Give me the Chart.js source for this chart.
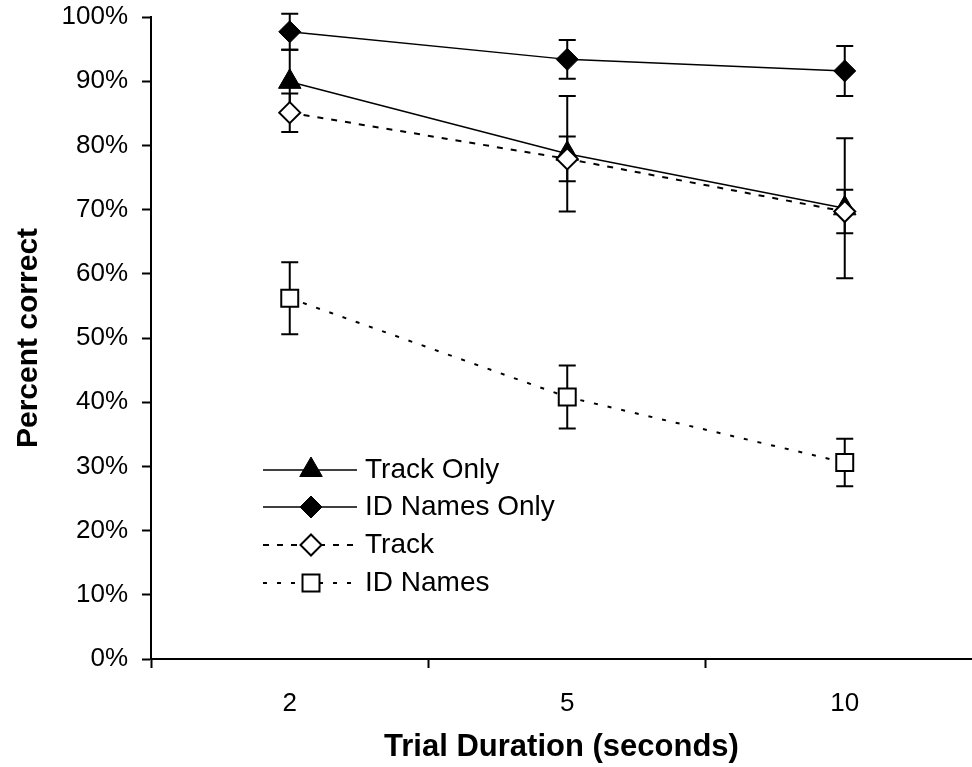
<!DOCTYPE html>
<html><head><meta charset="utf-8">
<script src="https://cdn.jsdelivr.net/npm/chart.js@4.4.1/dist/chart.umd.min.js"></script>
<style>html,body{margin:0;padding:0;background:#fff;overflow:hidden}#wrap{width:972px;height:767px;position:relative}</style>
</head><body><div id="wrap"><canvas id="c"></canvas></div>
<script>
const categories = ['2', '5', '10'];
const seriesNames = ['Track Only', 'ID Names Only', 'Track', 'ID Names'];
const trackOnly = [89.9, 78.7, 70.2];
const trackOnlyErr = [5.0, 9.0, 10.9];
const idNamesOnly = [97.7, 93.4, 91.6];
const idNamesOnlyErr = [2.8, 3.0, 3.9];
const track = [85.1, 77.9, 69.7];
const trackErr = [3.0, 3.5, 3.4];
const idNames = [56.2, 40.8, 30.6];
const idNamesErr = [5.6, 4.9, 3.7];
const yTickValues = [0, 10, 20, 30, 40, 50, 60, 70, 80, 90, 100];
const xAxisTitle = 'Trial Duration (seconds)';
const yAxisTitle = 'Percent correct';

const FONT = "'Liberation Sans', Arial, Helvetica, sans-serif";
Chart.defaults.font.family = FONT;
Chart.defaults.color = '#000';

function pts(arr) { return arr.map((v, i) => ({ x: i, y: v })); }

const datasets = [
  { label: seriesNames[0], data: pts(trackOnly), errors: trackOnlyErr, order: 4,
    borderColor: '#000', borderWidth: 1.5, borderDash: [],
    pointStyle: 'triangle', pointRadius: 13, pointBackgroundColor: '#000', pointBorderColor: '#000', pointBorderWidth: 1 },
  { label: seriesNames[1], data: pts(idNamesOnly), errors: idNamesOnlyErr, order: 3,
    borderColor: '#000', borderWidth: 1.5, borderDash: [],
    pointStyle: 'rectRot', pointRadius: 11, pointBackgroundColor: '#000', pointBorderColor: '#000', pointBorderWidth: 1 },
  { label: seriesNames[2], data: pts(track), errors: trackErr, order: 2,
    borderColor: '#000', borderWidth: 2, borderDash: [6, 8],
    pointStyle: 'rectRot', pointRadius: 10.5, pointBackgroundColor: '#fff', pointBorderColor: '#000', pointBorderWidth: 2 },
  { label: seriesNames[3], data: pts(idNames), errors: idNamesErr, order: 1,
    borderColor: '#000', borderWidth: 2, borderDash: [4, 10],
    pointStyle: 'rect', pointRadius: 12, pointBackgroundColor: '#fff', pointBorderColor: '#000', pointBorderWidth: 2 }
];
datasets.forEach(d => { d.fill = false; d.tension = 0; d.clip = false; d.pointHoverRadius = d.pointRadius; });

const errorPlugin = {
  id: 'errorBars',
  beforeDatasetsDraw(chart) {
    const { ctx, scales: { x, y } } = chart;
    ctx.save();
    ctx.strokeStyle = '#000'; ctx.lineWidth = 2; ctx.setLineDash([]);
    chart.data.datasets.forEach(ds => {
      ds.data.forEach((p, j) => {
        const e = ds.errors[j];
        const px = x.getPixelForValue(p.x);
        const yt = y.getPixelForValue(p.y + e);
        const yb = y.getPixelForValue(p.y - e);
        const cw = 8.5;
        ctx.beginPath();
        ctx.moveTo(px, yt); ctx.lineTo(px, yb);
        ctx.moveTo(px - cw, yt); ctx.lineTo(px + cw, yt);
        ctx.moveTo(px - cw, yb); ctx.lineTo(px + cw, yb);
        ctx.stroke();
      });
    });
    ctx.restore();
  }
};

function drawMarker(ctx, style, r, x, y) {
  ctx.beginPath();
  if (style === 'triangle') {
    ctx.moveTo(x, y - r);
    ctx.lineTo(x + Math.sin(2 * Math.PI / 3) * r, y + r / 2);
    ctx.lineTo(x - Math.sin(2 * Math.PI / 3) * r, y + r / 2);
  } else if (style === 'rectRot') {
    ctx.moveTo(x - r, y); ctx.lineTo(x, y - r); ctx.lineTo(x + r, y); ctx.lineTo(x, y + r);
  } else {
    const s = Math.SQRT1_2 * r;
    ctx.rect(x - s, y - s, 2 * s, 2 * s);
  }
  ctx.closePath();
  ctx.fill();
  ctx.stroke();
}

const legendPlugin = {
  id: 'inlineLegend',
  afterDatasetsDraw(chart) {
    const ctx = chart.ctx;
    const rows = [470, 507, 545, 583];
    const x0 = 263, x1 = 357, xm = 311, tx = 365;
    chart.data.datasets.forEach((ds, i) => {
      const y = rows[i];
      ctx.save();
      ctx.strokeStyle = ds.borderColor; ctx.lineWidth = ds.borderWidth;
      ctx.setLineDash(ds.borderDash || []);
      ctx.beginPath(); ctx.moveTo(x0, y); ctx.lineTo(x1, y); ctx.stroke();
      ctx.setLineDash([]);
      ctx.fillStyle = ds.pointBackgroundColor; ctx.strokeStyle = ds.pointBorderColor; ctx.lineWidth = ds.pointBorderWidth;
      drawMarker(ctx, ds.pointStyle, ds.pointRadius, xm, y);
      ctx.fillStyle = '#000';
      ctx.font = '28px ' + FONT;
      ctx.textAlign = 'left'; ctx.textBaseline = 'middle';
      ctx.fillText(ds.label, tx, y);
      ctx.restore();
    });
  }
};

new Chart(document.getElementById('c'), {
  type: 'line',
  data: { datasets },
  plugins: [errorPlugin, legendPlugin],
  options: {
    responsive: true, maintainAspectRatio: false, animation: false, events: [],
    devicePixelRatio: 1,
    layout: { autoPadding: false, padding: { top: 17, right: 0, left: 0, bottom: 0 } },
    plugins: { legend: { display: false }, tooltip: { enabled: false } },
    scales: {
      x: {
        type: 'linear', min: -0.5, max: 2.4586,
        afterBuildTicks: s => { s.ticks = [-0.5, 0, 0.5, 1, 1.5, 2].map(v => ({ value: v })); },
        afterFit: s => { s.height = 108; s.paddingLeft = 0; s.paddingRight = 0; },
        ticks: {
          autoSkip: false, maxRotation: 0, padding: 20, color: '#000',
          font: { size: 26 },
          callback: v => Number.isInteger(v) ? categories[v] : ''
        },
        grid: {
          drawOnChartArea: false, tickLength: 9, tickWidth: 2,
          tickColor: c => (c.tick && Number.isInteger(c.tick.value)) ? 'rgba(0,0,0,0)' : '#000'
        },
        border: { display: true, color: '#000', width: 2 },
        title: { display: true, text: xAxisTitle, color: '#000', font: { size: 31, weight: 'bold' }, padding: { top: 0, bottom: 1 } }
      },
      y: {
        min: 0, max: 100,
        afterBuildTicks: s => { s.ticks = yTickValues.map(v => ({ value: v })); },
        afterFit: s => { s.width = 151; s.paddingTop = 0; s.paddingBottom = 0; },
        ticks: { padding: 14, color: '#000', font: { size: 26 }, callback: v => v + '%' },
        grid: { drawOnChartArea: false, tickLength: 9, tickWidth: 2, tickColor: '#000' },
        border: { display: true, color: '#000', width: 2 },
        title: { display: true, text: yAxisTitle, color: '#000', font: { size: 30, weight: 'bold' }, padding: { top: 11, bottom: 0 } }
      }
    }
  }
});
</script></body></html>
